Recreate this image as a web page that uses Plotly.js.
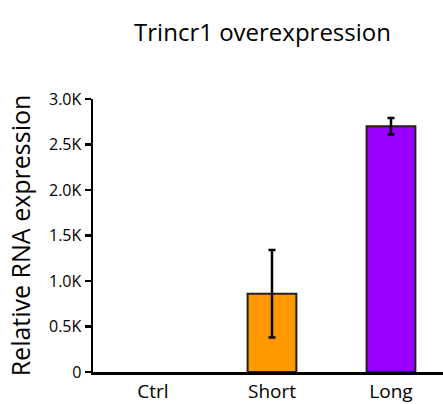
<!DOCTYPE html>
<html><head><meta charset="utf-8">
<script src="https://cdn.plot.ly/plotly-3.0.1.min.js"></script>
<style>html,body{margin:0;padding:0;background:#fff}#chart{width:443px;height:404px}</style>
</head><body><div id="chart"></div>
<script>
const categories = ["Ctrl", "Short", "Long"];
const values = [0, 860, 2700];
const errors = [0, 480, 90];
const barColors = ["#ffffff", "#ff9900", "#9900ff"];
const yTickVals = [0, 500, 1000, 1500, 2000, 2500, 3000];
const yTickText = ["0", "0.5K", "1.0K", "1.5K", "2.0K", "2.5K", "3.0K"];

const font = "'Open Sans', 'Noto Sans', sans-serif";
// one trace per bar so that a zero-error bar draws no error cap
const traces = categories.map((c, i) => {
  const t = {
    type: "bar",
    x: [c],
    y: [values[i]],
    width: 0.41,
    marker: {color: barColors[i], line: {color: "#231f20", width: values[i] > 0 ? 2 : 0}}
  };
  if (errors[i] > 0) {
    t.error_y = {type: "data", array: [errors[i]], visible: true, color: "#000", thickness: 2.5, width: 3.5};
  }
  return t;
});
const layout = {
  width: 443, height: 404,
  margin: {l: 93, r: 0, t: 99, b: 32},
  paper_bgcolor: "#fff", plot_bgcolor: "#fff",
  showlegend: false,
  barmode: "overlay",
  font: {family: font, color: "#000"},
  title: {text: "Trincr1 overexpression", font: {size: 24, family: font, color: "#000"},
          x: 0.5926, xref: "container", xanchor: "center", y: 0.92, yref: "container", yanchor: "middle"},
  xaxis: {
    categoryorder: "array", categoryarray: categories,
    range: [-0.504, 2.437], showline: true, linecolor: "#000", linewidth: 2.5,
    ticks: "", tickfont: {size: 19}, ticklabelstandoff: 1, showgrid: false, zeroline: false, fixedrange: true
  },
  yaxis: {
    range: [0, 3000], showline: true, linecolor: "#000", linewidth: 2.5,
    ticks: "outside", ticklen: 6, tickwidth: 2.5, tickcolor: "#000",
    tickvals: yTickVals, ticktext: yTickText, tickfont: {size: 16},
    showgrid: false, zeroline: false,
    title: {text: "Relative RNA expression", font: {size: 25}, standoff: 12}
  }
};
Plotly.newPlot("chart", traces, layout, {displayModeBar: false, staticPlot: true});
</script></body></html>
